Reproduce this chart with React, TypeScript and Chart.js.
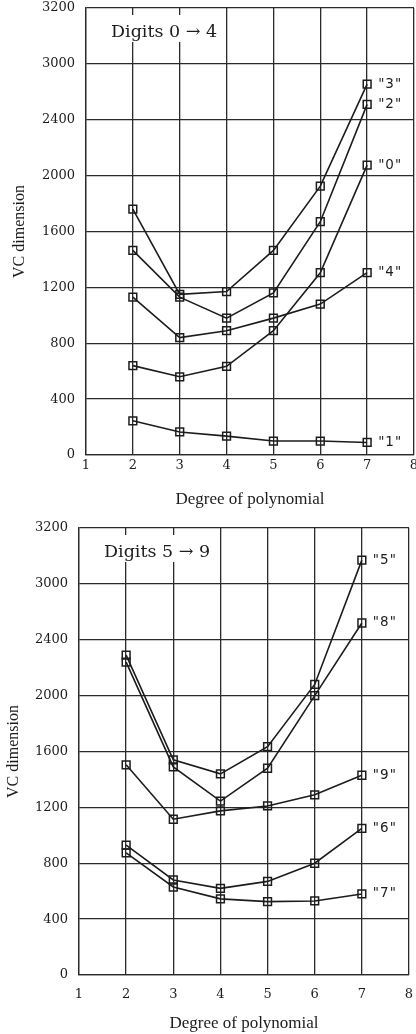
import { useEffect, useRef } from 'react';
import { Chart, registerables } from 'chart.js';

Chart.register(...registerables);

// Polynomial degree on the x axis; every curve has one point per degree.
const degrees = [2, 3, 4, 5, 6, 7];
const xTickLabels = ['1', '2', '3', '4', '5', '6', '7', '8'];
const yTickLabels = ['0', '400', '800', '1200', '1600', '2000', '2400', '3000', '3200'];

// VC dimension per digit class, digits 0 → 4
const digit0 = [640, 560, 635, 890, 1305, 2075];
const digit1 = [245, 165, 135, 100, 100, 90];
const digit2 = [1465, 1130, 980, 1160, 1670, 2510];
const digit3 = [1760, 1150, 1170, 1465, 1925, 2655];
const digit4 = [1130, 840, 890, 980, 1080, 1305];

// VC dimension per digit class, digits 5 → 9
const digit5 = [2290, 1540, 1440, 1635, 2080, 2970];
const digit6 = [930, 680, 620, 670, 800, 1050];
const digit7 = [875, 630, 545, 525, 530, 580];
const digit8 = [2240, 1490, 1245, 1480, 2000, 2520];
const digit9 = [1505, 1115, 1175, 1210, 1290, 1430];

const INK = '#1c1c1c';
const GRID = '#2a2a2a';

type Panel = {
  caption: string;
  series: [string, number[]][];
  top: number;
  width: number;
  height: number;
  yAxisWidth: number;
  xAxisHeight: number;
  padRight: number;
  xTickPad: number;
  xTitlePad: number;
  yTitlePad: number;
};

const panels: Panel[] = [
  {
    caption: 'Digits 0 \u2192 4',
    series: [
      ['"3"', digit3],
      ['"2"', digit2],
      ['"0"', digit0],
      ['"4"', digit4],
      ['"1"', digit1],
    ],
    top: 0,
    width: 440,
    height: 520,
    yAxisWidth: 86,
    xAxisHeight: 65,
    padRight: 26,
    xTickPad: 3,
    xTitlePad: 10,
    yTitlePad: 10,
  },
  {
    caption: 'Digits 5 \u2192 9',
    series: [
      ['"5"', digit5],
      ['"8"', digit8],
      ['"9"', digit9],
      ['"6"', digit6],
      ['"7"', digit7],
    ],
    top: 520,
    width: 416,
    height: 514,
    yAxisWidth: 79,
    xAxisHeight: 59,
    padRight: 6,
    xTickPad: 12,
    xTitlePad: 0,
    yTitlePad: 4,
  },
];

// Caption box in the upper-left corner and a label beside each curve's last point.
const panelDecor = {
  id: 'panelDecor',
  afterDraw(chart: any, _args: any, opts: any) {
    const { ctx, chartArea } = chart;
    ctx.save();
    ctx.fillStyle = '#ffffff';
    ctx.fillRect(chartArea.left + 20, chartArea.top + 7, 116, 27);
    ctx.fillStyle = INK;
    ctx.font = '17.5px "DejaVu Serif"';
    ctx.textAlign = 'left';
    ctx.textBaseline = 'alphabetic';
    ctx.fillText(opts.caption, chartArea.left + 25, chartArea.top + 28.5);

    ctx.font = '13.5px "DejaVu Sans"';
    (ctx as any).letterSpacing = '1px';
    ctx.textBaseline = 'middle';
    chart.data.datasets.forEach((ds: any, i: number) => {
      const meta = chart.getDatasetMeta(i);
      const pt = meta.data[meta.data.length - 1];
      if (pt) ctx.fillText(ds.label, pt.x + 11, pt.y);
    });
    ctx.restore();
  },
};

function buildConfig(p: Panel): any {
  const tickFont = { family: '"DejaVu Serif"', size: 13 };
  return {
    type: 'line',
    data: {
      datasets: p.series.map(([label, values]) => ({
        label,
        data: degrees.map((d, i) => ({ x: d, y: values[i] })),
        borderColor: INK,
        borderWidth: 1.6,
        pointStyle: 'rect',
        pointRadius: 5.5,
        pointBorderWidth: 1.5,
        pointBorderColor: INK,
        pointBackgroundColor: 'rgba(0,0,0,0)',
        tension: 0,
        fill: false,
      })),
    },
    options: {
      animation: false,
      responsive: false,
      maintainAspectRatio: false,
      events: [],
      layout: { padding: { top: 8, right: p.padRight, left: 0, bottom: 0 } },
      plugins: {
        legend: { display: false },
        tooltip: { enabled: false },
        panelDecor: { caption: p.caption },
      },
      scales: {
        x: {
          type: 'linear',
          min: 1,
          max: 8,
          ticks: {
            stepSize: 1,
            padding: p.xTickPad,
            font: tickFont,
            color: INK,
            maxRotation: 0,
            callback: (_v: number, i: number) => xTickLabels[i],
          },
          grid: { color: GRID, lineWidth: 1.3, drawTicks: false },
          border: { color: GRID, width: 1.3 },
          title: {
            display: true,
            text: 'Degree of polynomial',
            color: INK,
            font: { family: '"Liberation Serif"', size: 17 },
            padding: { top: 0, bottom: p.xTitlePad },
          },
          afterFit: (s: any) => {
            s.height = p.xAxisHeight;
            s.paddingLeft = 0;
            s.paddingRight = 0;
          },
        },
        y: {
          type: 'linear',
          min: 0,
          max: 3200,
          ticks: {
            stepSize: 400,
            padding: 11,
            font: tickFont,
            color: INK,
            callback: (_v: number, i: number) => yTickLabels[i],
          },
          grid: { color: GRID, lineWidth: 1.3, drawTicks: false },
          border: { color: GRID, width: 1.3 },
          title: {
            display: true,
            text: 'VC dimension',
            color: INK,
            font: { family: '"Liberation Serif"', size: 16 },
            padding: { top: p.yTitlePad, bottom: 0 },
          },
          afterFit: (s: any) => {
            s.width = p.yAxisWidth;
            s.paddingTop = 0;
            s.paddingBottom = 0;
          },
        },
      },
    },
    plugins: [panelDecor],
  };
}

function PanelChart({ panel }: { panel: Panel }) {
  const ref = useRef<HTMLCanvasElement | null>(null);
  useEffect(() => {
    if (!ref.current) return;
    const chart = new Chart(ref.current, buildConfig(panel));
    return () => chart.destroy();
  }, [panel]);
  return (
    <canvas
      ref={ref}
      width={panel.width}
      height={panel.height}
      style={{
        position: 'absolute',
        left: 0,
        top: panel.top,
        width: panel.width,
        height: panel.height,
        display: 'block',
      }}
    />
  );
}

export default function App() {
  return (
    <div
      style={{
        position: 'absolute',
        left: 0,
        top: 0,
        width: 416,
        height: 1034,
        background: '#ffffff',
        overflow: 'hidden',
      }}
    >
      {panels.map((p) => (
        <PanelChart key={p.caption} panel={p} />
      ))}
    </div>
  );
}
